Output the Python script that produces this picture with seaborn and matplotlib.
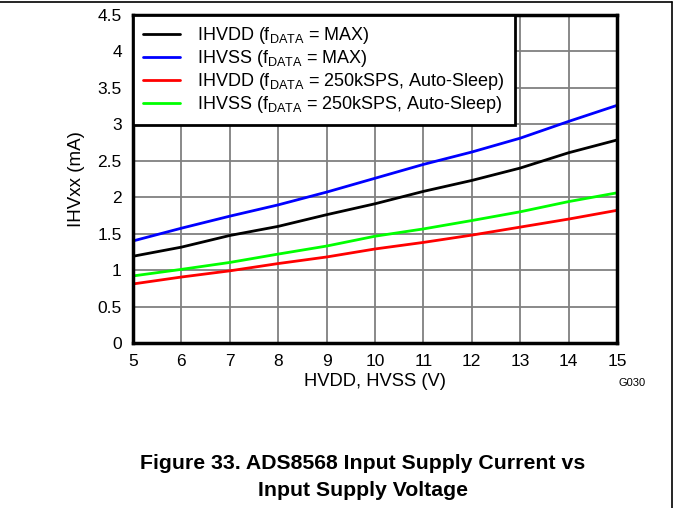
import pandas as pd
import matplotlib.pyplot as plt
from matplotlib.lines import Line2D
import seaborn as sns

# -- Data ----------------------------------------------------------------------
VOLTS = [5, 6, 7, 8, 9, 10, 11, 12, 13, 14, 15]
IHVDD_MAX = [1.19, 1.315, 1.475, 1.60, 1.76, 1.91, 2.08, 2.23, 2.40, 2.61, 2.785]
IHVSS_MAX = [1.40, 1.575, 1.74, 1.895, 2.07, 2.26, 2.45, 2.62, 2.81, 3.04, 3.26]
IHVDD_250K = [0.81, 0.905, 0.99, 1.09, 1.18, 1.29, 1.38, 1.48, 1.59, 1.70, 1.82]
IHVSS_250K = [0.92, 1.01, 1.105, 1.22, 1.33, 1.465, 1.565, 1.68, 1.80, 1.94, 2.06]

LABELS = [
    r"IHVDD (f$_{\mathrm{DATA}}$ = MAX)",
    r"IHVSS (f$_{\mathrm{DATA}}$ = MAX)",
    r"IHVDD (f$_{\mathrm{DATA}}$ = 250kSPS, Auto-Sleep)",
    r"IHVSS (f$_{\mathrm{DATA}}$ = 250kSPS, Auto-Sleep)",
]
COLORS = ["#000000", "#0000ff", "#ff0000", "#00ff00"]
SERIES = [IHVDD_MAX, IHVSS_MAX, IHVDD_250K, IHVSS_250K]

# -- Style ----------------------------------------------------------------------
sns.set_theme(style="white")
plt.rcParams["font.family"] = ["Liberation Sans", "DejaVu Sans"]
plt.rcParams["mathtext.fontset"] = "custom"
plt.rcParams["mathtext.rm"] = "Liberation Sans"
plt.rcParams["mathtext.it"] = "Liberation Sans:italic"
plt.rcParams["text.color"] = "black"

df = pd.concat(
    [pd.DataFrame({"V": VOLTS, "I": vals, "series": lab}) for lab, vals in zip(LABELS, SERIES)],
    ignore_index=True,
)

fig = plt.figure(figsize=(6.73, 5.08), dpi=100)
ax = fig.add_axes([0.1976, 0.3248, 0.7192, 0.6457])

sns.lineplot(data=df, x="V", y="I", hue="series", hue_order=LABELS,
             palette=dict(zip(LABELS, COLORS)), linewidth=2, ax=ax)

ax.set_xlim(5, 15)
ax.set_ylim(0, 4.5)
ax.set_xticks(range(5, 16))
ax.set_yticks([0, 0.5, 1, 1.5, 2, 2.5, 3, 3.5, 4, 4.5])
ax.set_yticklabels(["0", "0.5", "1", "1.5", "2", "2.5", "3", "3.5", "4", "4.5"])
ax.grid(True, color="#808080", linewidth=1.3)
ax.set_axisbelow(True)
for sp in ax.spines.values():
    sp.set_color("black")
    sp.set_linewidth(2.5)
ax.tick_params(length=0, labelsize=12.5, colors="black", pad=8)
ax.set_xlabel("HVDD, HVSS (V)", fontsize=13.2, color="black", labelpad=3)
ax.set_ylabel("IHVxx (mA)", fontsize=13.5, color="black", labelpad=9)

leg = ax.legend(loc="upper left", borderaxespad=0, fontsize=13.0, frameon=True,
                fancybox=False, handlelength=2.05, handletextpad=0.95,
                labelspacing=0.12, borderpad=0.55)
leg.get_frame().set_edgecolor("black")
leg.get_frame().set_linewidth(2)
leg.get_frame().set_alpha(1)
for h in leg.get_lines():
    h.set_linewidth(2)

fig.text(632 / 673, 1 - 383 / 508, "G030", fontsize=8, ha="center", va="center")
fig.text(363 / 673, 1 - 477 / 508,
         "Figure 33. ADS8568 Input Supply Current vs\nInput Supply Voltage",
         fontsize=15.3, fontweight="bold", ha="center", va="center", linespacing=1.5)

# page border (top and right)
fig.add_artist(Line2D([0, 0.998], [0.997, 0.997], color="black", linewidth=1.2))
fig.add_artist(Line2D([0.998, 0.998], [0, 0.997], color="black", linewidth=1.2))

fig.savefig("out.png", dpi=100)
